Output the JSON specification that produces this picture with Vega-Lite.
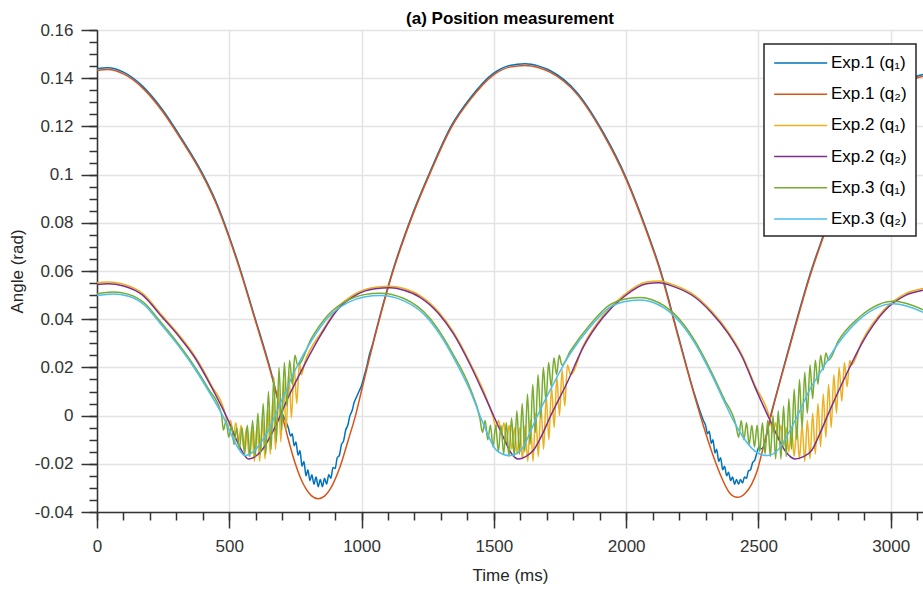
{
"$schema": "https://vega.github.io/schema/vega-lite/v6.json",
"width": 826, "height": 482,
"autosize": {"type": "none"},
"padding": {"left": 97, "top": 30, "right": 0, "bottom": 77},
"background": "white",
"title": {"text": "(a) Position measurement", "fontSize": 17, "fontWeight": "bold", "color": "#000000", "offset": -7, "anchor": "middle", "font": "Liberation Sans"},
"datasets": {
"e1a": [{"t":0,"v":0.1439},{"t":40,"v":0.1443},{"t":100,"v":0.1425},{"t":170,"v":0.1369},{"t":245,"v":0.1273},{"t":320,"v":0.1149},{"t":396,"v":0.1010},{"t":450,"v":0.0887},{"t":496,"v":0.0755},{"t":540,"v":0.0612},{"t":594,"v":0.0417},{"t":654,"v":0.0197},{"t":700,"v":0.0007},{"t":712,"v":-0.002},{"t":723,"v":-0.005},{"t":732,"v":-0.0085},{"t":738,"v":-0.0075},{"t":745,"v":-0.0125},{"t":752,"v":-0.011},{"t":760,"v":-0.0165},{"t":767,"v":-0.0145},{"t":775,"v":-0.021},{"t":782,"v":-0.019},{"t":790,"v":-0.025},{"t":797,"v":-0.0225},{"t":805,"v":-0.027},{"t":812,"v":-0.0245},{"t":820,"v":-0.0285},{"t":828,"v":-0.0255},{"t":836,"v":-0.0295},{"t":844,"v":-0.0265},{"t":852,"v":-0.0295},{"t":860,"v":-0.026},{"t":868,"v":-0.0285},{"t":876,"v":-0.0245},{"t":884,"v":-0.026},{"t":892,"v":-0.0215},{"t":900,"v":-0.022},{"t":908,"v":-0.0175},{"t":916,"v":-0.0165},{"t":924,"v":-0.012},{"t":932,"v":-0.0105},{"t":940,"v":-0.006},{"t":948,"v":-0.004},{"t":956,"v":0.0},{"t":964,"v":0.002},{"t":972,"v":0.0055},{"t":980,"v":0.0075},{"t":990,"v":0.010},{"t":1000,"v":0.0125},{"t":1010,"v":0.0165},{"t":1020,"v":0.0205},{"t":1030,"v":0.0255},{"t":1040,"v":0.029},{"t":1051,"v":0.0337},{"t":1114,"v":0.0588},{"t":1195,"v":0.0844},{"t":1258,"v":0.1010},{"t":1340,"v":0.1204},{"t":1410,"v":0.1317},{"t":1498,"v":0.1420},{"t":1560,"v":0.1453},{"t":1618,"v":0.1460},{"t":1670,"v":0.1450},{"t":1712,"v":0.1432},{"t":1813,"v":0.1342},{"t":1913,"v":0.1176},{"t":2002,"v":0.0982},{"t":2071,"v":0.0789},{"t":2128,"v":0.0609},{"t":2197,"v":0.0332},{"t":2260,"v":0.0083},{"t":2292,"v":-0.002},{"t":2300,"v":-0.004},{"t":2308,"v":-0.0075},{"t":2314,"v":-0.0065},{"t":2322,"v":-0.0115},{"t":2328,"v":-0.010},{"t":2336,"v":-0.0155},{"t":2342,"v":-0.014},{"t":2350,"v":-0.019},{"t":2357,"v":-0.0175},{"t":2365,"v":-0.0225},{"t":2372,"v":-0.021},{"t":2380,"v":-0.025},{"t":2387,"v":-0.0235},{"t":2395,"v":-0.027},{"t":2402,"v":-0.0255},{"t":2410,"v":-0.0285},{"t":2417,"v":-0.0265},{"t":2425,"v":-0.0285},{"t":2432,"v":-0.0265},{"t":2440,"v":-0.028},{"t":2447,"v":-0.0255},{"t":2455,"v":-0.026},{"t":2462,"v":-0.023},{"t":2470,"v":-0.0225},{"t":2478,"v":-0.0195},{"t":2486,"v":-0.0185},{"t":2494,"v":-0.0155},{"t":2502,"v":-0.013},{"t":2512,"v":-0.0138},{"t":2550,"v":0.0017},{"t":2613,"v":0.0272},{"t":2701,"v":0.0607},{"t":2745,"v":0.0747},{"t":2800,"v":0.0917},{"t":2860,"v":0.1072},{"t":2921,"v":0.1207},{"t":2991,"v":0.1322},{"t":3050,"v":0.1382},{"t":3090,"v":0.1405},{"t":3122,"v":0.1415}],
"e1b": [{"t":0,"v":0.1432},{"t":40,"v":0.1436},{"t":100,"v":0.1418},{"t":170,"v":0.1362},{"t":245,"v":0.1266},{"t":320,"v":0.1142},{"t":396,"v":0.1003},{"t":450,"v":0.0880},{"t":496,"v":0.0748},{"t":540,"v":0.0605},{"t":594,"v":0.0410},{"t":654,"v":0.0190},{"t":700,"v":0.0},{"t":720,"v":-0.0086},{"t":748,"v":-0.0195},{"t":770,"v":-0.0261},{"t":790,"v":-0.0304},{"t":810,"v":-0.0332},{"t":836,"v":-0.0345},{"t":860,"v":-0.0334},{"t":880,"v":-0.0307},{"t":920,"v":-0.0208},{"t":950,"v":-0.0100},{"t":977,"v":0.0},{"t":1000,"v":0.0104},{"t":1051,"v":0.0330},{"t":1114,"v":0.0581},{"t":1195,"v":0.0837},{"t":1258,"v":0.1003},{"t":1340,"v":0.1197},{"t":1410,"v":0.1310},{"t":1498,"v":0.1413},{"t":1560,"v":0.1446},{"t":1618,"v":0.1453},{"t":1670,"v":0.1443},{"t":1712,"v":0.1425},{"t":1813,"v":0.1335},{"t":1913,"v":0.1169},{"t":2002,"v":0.0975},{"t":2071,"v":0.0782},{"t":2128,"v":0.0602},{"t":2197,"v":0.0325},{"t":2260,"v":0.0076},{"t":2310,"v":-0.0105},{"t":2340,"v":-0.0200},{"t":2361,"v":-0.0258},{"t":2392,"v":-0.0322},{"t":2421,"v":-0.0339},{"t":2450,"v":-0.0322},{"t":2474,"v":-0.0285},{"t":2495,"v":-0.0230},{"t":2512,"v":-0.0160},{"t":2550,"v":0.0010},{"t":2613,"v":0.0265},{"t":2701,"v":0.0600},{"t":2745,"v":0.0740},{"t":2800,"v":0.0910},{"t":2860,"v":0.1065},{"t":2921,"v":0.1200},{"t":2991,"v":0.1315},{"t":3050,"v":0.1375},{"t":3090,"v":0.1398},{"t":3122,"v":0.1408}],
"e2a": [{"t":0,"v":0.0551},{"t":42,"v":0.0554},{"t":100,"v":0.0545},{"t":170,"v":0.0509},{"t":245,"v":0.0417},{"t":310,"v":0.0335},{"t":370,"v":0.0247},{"t":433,"v":0.0125},{"t":485,"v":0.0005},{"t":495,"v":-0.005},{"t":505,"v":-0.002},{"t":515,"v":-0.008},{"t":525,"v":-0.003},{"t":535,"v":-0.011},{"t":545,"v":-0.004},{"t":555,"v":-0.014},{"t":565,"v":-0.005},{"t":575,"v":-0.017},{"t":585,"v":-0.005},{"t":595,"v":-0.019},{"t":605,"v":-0.004},{"t":615,"v":-0.019},{"t":625,"v":-0.001},{"t":635,"v":-0.018},{"t":645,"v":0.003},{"t":655,"v":-0.016},{"t":665,"v":0.007},{"t":675,"v":-0.014},{"t":685,"v":0.011},{"t":695,"v":-0.011},{"t":705,"v":0.015},{"t":715,"v":-0.006},{"t":725,"v":0.018},{"t":735,"v":-0.001},{"t":745,"v":0.021},{"t":755,"v":0.005},{"t":765,"v":0.022},{"t":772,"v":0.017},{"t":786,"v":0.0222},{"t":849,"v":0.0347},{"t":912,"v":0.0450},{"t":975,"v":0.0505},{"t":1051,"v":0.0533},{"t":1107,"v":0.0537},{"t":1160,"v":0.0527},{"t":1221,"v":0.0498},{"t":1290,"v":0.0432},{"t":1347,"v":0.0347},{"t":1410,"v":0.0219},{"t":1473,"v":0.0070},{"t":1498,"v":-0.001},{"t":1508,"v":-0.005},{"t":1518,"v":-0.002},{"t":1528,"v":-0.008},{"t":1538,"v":-0.003},{"t":1548,"v":-0.011},{"t":1558,"v":-0.004},{"t":1568,"v":-0.014},{"t":1578,"v":-0.005},{"t":1588,"v":-0.016},{"t":1598,"v":-0.005},{"t":1608,"v":-0.018},{"t":1618,"v":-0.004},{"t":1628,"v":-0.019},{"t":1638,"v":-0.002},{"t":1648,"v":-0.019},{"t":1658,"v":0.001},{"t":1668,"v":-0.017},{"t":1678,"v":0.004},{"t":1688,"v":-0.014},{"t":1698,"v":0.008},{"t":1708,"v":-0.010},{"t":1718,"v":0.012},{"t":1728,"v":-0.005},{"t":1738,"v":0.016},{"t":1748,"v":0.000},{"t":1758,"v":0.019},{"t":1768,"v":0.004},{"t":1778,"v":0.021},{"t":1790,"v":0.017},{"t":1838,"v":0.0291},{"t":1913,"v":0.0415},{"t":1989,"v":0.0498},{"t":2077,"v":0.0554},{"t":2125,"v":0.0558},{"t":2180,"v":0.0542},{"t":2260,"v":0.0498},{"t":2320,"v":0.0437},{"t":2386,"v":0.0347},{"t":2440,"v":0.0247},{"t":2487,"v":0.0125},{"t":2545,"v":-0.002},{"t":2555,"v":-0.007},{"t":2565,"v":-0.003},{"t":2575,"v":-0.010},{"t":2585,"v":-0.004},{"t":2595,"v":-0.013},{"t":2605,"v":-0.005},{"t":2615,"v":-0.015},{"t":2625,"v":-0.005},{"t":2635,"v":-0.017},{"t":2645,"v":-0.005},{"t":2655,"v":-0.018},{"t":2665,"v":-0.004},{"t":2675,"v":-0.019},{"t":2685,"v":-0.002},{"t":2695,"v":-0.018},{"t":2705,"v":0.001},{"t":2715,"v":-0.016},{"t":2725,"v":0.005},{"t":2735,"v":-0.013},{"t":2745,"v":0.009},{"t":2755,"v":-0.009},{"t":2765,"v":0.013},{"t":2775,"v":-0.005},{"t":2785,"v":0.017},{"t":2795,"v":0.001},{"t":2805,"v":0.020},{"t":2815,"v":0.006},{"t":2825,"v":0.022},{"t":2835,"v":0.012},{"t":2845,"v":0.023},{"t":2852,"v":0.021},{"t":2890,"v":0.0305},{"t":2978,"v":0.0443},{"t":3054,"v":0.0505},{"t":3122,"v":0.0527}],
"e2b": [{"t":0,"v":0.0544},{"t":42,"v":0.0547},{"t":100,"v":0.0538},{"t":170,"v":0.0502},{"t":245,"v":0.0410},{"t":310,"v":0.0328},{"t":370,"v":0.0240},{"t":433,"v":0.0118},{"t":496,"v":-0.0020},{"t":534,"v":-0.0117},{"t":552,"v":-0.0155},{"t":572,"v":-0.0180},{"t":595,"v":-0.0172},{"t":622,"v":-0.0145},{"t":673,"v":-0.0048},{"t":723,"v":0.0076},{"t":786,"v":0.0215},{"t":849,"v":0.0340},{"t":912,"v":0.0443},{"t":975,"v":0.0498},{"t":1051,"v":0.0526},{"t":1107,"v":0.0530},{"t":1160,"v":0.0520},{"t":1221,"v":0.0491},{"t":1290,"v":0.0425},{"t":1347,"v":0.0340},{"t":1410,"v":0.0212},{"t":1473,"v":0.0063},{"t":1536,"v":-0.0090},{"t":1565,"v":-0.0155},{"t":1592,"v":-0.0180},{"t":1620,"v":-0.0170},{"t":1649,"v":-0.0145},{"t":1680,"v":-0.0085},{"t":1712,"v":-0.0007},{"t":1775,"v":0.0132},{"t":1838,"v":0.0284},{"t":1913,"v":0.0408},{"t":1989,"v":0.0491},{"t":2077,"v":0.0547},{"t":2125,"v":0.0551},{"t":2180,"v":0.0535},{"t":2260,"v":0.0491},{"t":2320,"v":0.0430},{"t":2386,"v":0.0340},{"t":2440,"v":0.0240},{"t":2487,"v":0.0118},{"t":2550,"v":-0.0034},{"t":2600,"v":-0.0145},{"t":2638,"v":-0.0180},{"t":2670,"v":-0.0170},{"t":2701,"v":-0.0145},{"t":2730,"v":-0.0080},{"t":2764,"v":0.0007},{"t":2827,"v":0.0159},{"t":2890,"v":0.0298},{"t":2978,"v":0.0436},{"t":3054,"v":0.0498},{"t":3122,"v":0.0520}],
"e3a": [{"t":0,"v":0.0506},{"t":60,"v":0.0513},{"t":120,"v":0.0503},{"t":180,"v":0.0466},{"t":232,"v":0.0400},{"t":297,"v":0.0313},{"t":357,"v":0.0223},{"t":420,"v":0.0113},{"t":470,"v":0.0008},{"t":478,"v":-0.006},{"t":488,"v":-0.002},{"t":498,"v":-0.009},{"t":508,"v":-0.004},{"t":518,"v":-0.012},{"t":528,"v":-0.005},{"t":538,"v":-0.014},{"t":548,"v":-0.005},{"t":558,"v":-0.016},{"t":568,"v":-0.004},{"t":578,"v":-0.017},{"t":588,"v":-0.002},{"t":598,"v":-0.017},{"t":608,"v":0.001},{"t":618,"v":-0.016},{"t":628,"v":0.005},{"t":638,"v":-0.016},{"t":648,"v":0.010},{"t":658,"v":-0.014},{"t":668,"v":0.016},{"t":678,"v":-0.011},{"t":688,"v":0.020},{"t":698,"v":-0.006},{"t":708,"v":0.022},{"t":718,"v":0.004},{"t":728,"v":0.023},{"t":738,"v":0.013},{"t":748,"v":0.025},{"t":758,"v":0.021},{"t":811,"v":0.0321},{"t":874,"v":0.0418},{"t":950,"v":0.0480},{"t":1010,"v":0.0502},{"t":1070,"v":0.0508},{"t":1158,"v":0.0487},{"t":1258,"v":0.0404},{"t":1300,"v":0.0340},{"t":1347,"v":0.0252},{"t":1410,"v":0.0114},{"t":1447,"v":-0.001},{"t":1457,"v":-0.007},{"t":1467,"v":-0.002},{"t":1477,"v":-0.010},{"t":1487,"v":-0.004},{"t":1497,"v":-0.013},{"t":1507,"v":-0.004},{"t":1517,"v":-0.015},{"t":1527,"v":-0.004},{"t":1537,"v":-0.016},{"t":1547,"v":-0.003},{"t":1557,"v":-0.017},{"t":1567,"v":-0.001},{"t":1577,"v":-0.017},{"t":1587,"v":0.002},{"t":1597,"v":-0.016},{"t":1607,"v":0.005},{"t":1617,"v":-0.015},{"t":1627,"v":0.009},{"t":1637,"v":-0.012},{"t":1647,"v":0.013},{"t":1657,"v":-0.007},{"t":1667,"v":0.017},{"t":1677,"v":-0.001},{"t":1687,"v":0.020},{"t":1697,"v":0.006},{"t":1707,"v":0.022},{"t":1717,"v":0.012},{"t":1727,"v":0.024},{"t":1737,"v":0.017},{"t":1747,"v":0.025},{"t":1757,"v":0.021},{"t":1788,"v":0.0266},{"t":1863,"v":0.0377},{"t":1939,"v":0.0460},{"t":2014,"v":0.0487},{"t":2052,"v":0.0490},{"t":2100,"v":0.0480},{"t":2184,"v":0.0420},{"t":2260,"v":0.0310},{"t":2323,"v":0.0180},{"t":2370,"v":0.0070},{"t":2415,"v":-0.004},{"t":2425,"v":-0.009},{"t":2435,"v":-0.002},{"t":2445,"v":-0.010},{"t":2455,"v":-0.003},{"t":2465,"v":-0.012},{"t":2475,"v":-0.004},{"t":2485,"v":-0.013},{"t":2495,"v":-0.004},{"t":2505,"v":-0.015},{"t":2515,"v":-0.003},{"t":2525,"v":-0.016},{"t":2535,"v":-0.002},{"t":2545,"v":-0.017},{"t":2555,"v":0.000},{"t":2565,"v":-0.018},{"t":2575,"v":0.002},{"t":2585,"v":-0.018},{"t":2595,"v":0.004},{"t":2605,"v":-0.017},{"t":2615,"v":0.007},{"t":2625,"v":-0.014},{"t":2635,"v":0.011},{"t":2645,"v":-0.010},{"t":2655,"v":0.015},{"t":2665,"v":-0.005},{"t":2675,"v":0.018},{"t":2685,"v":0.001},{"t":2695,"v":0.021},{"t":2705,"v":0.007},{"t":2715,"v":0.023},{"t":2725,"v":0.013},{"t":2735,"v":0.025},{"t":2745,"v":0.019},{"t":2755,"v":0.026},{"t":2765,"v":0.023},{"t":2802,"v":0.0310},{"t":2877,"v":0.0404},{"t":2953,"v":0.0460},{"t":3010,"v":0.0474},{"t":3060,"v":0.0465},{"t":3122,"v":0.0439}],
"e3b": [{"t":0,"v":0.0498},{"t":60,"v":0.0505},{"t":120,"v":0.0495},{"t":180,"v":0.0458},{"t":232,"v":0.0392},{"t":297,"v":0.0305},{"t":357,"v":0.0215},{"t":420,"v":0.0105},{"t":475,"v":0.0000},{"t":521,"v":-0.0110},{"t":540,"v":-0.0145},{"t":559,"v":-0.0166},{"t":580,"v":-0.0158},{"t":600,"v":-0.0140},{"t":647,"v":-0.0062},{"t":698,"v":0.0063},{"t":748,"v":0.0187},{"t":811,"v":0.0311},{"t":874,"v":0.0408},{"t":950,"v":0.0470},{"t":1010,"v":0.0492},{"t":1070,"v":0.0498},{"t":1158,"v":0.0477},{"t":1258,"v":0.0394},{"t":1300,"v":0.0330},{"t":1347,"v":0.0242},{"t":1410,"v":0.0104},{"t":1460,"v":-0.0034},{"t":1511,"v":-0.0145},{"t":1561,"v":-0.0166},{"t":1590,"v":-0.0155},{"t":1611,"v":-0.0131},{"t":1636,"v":-0.0072},{"t":1662,"v":-0.0007},{"t":1725,"v":0.0132},{"t":1788,"v":0.0256},{"t":1863,"v":0.0367},{"t":1939,"v":0.0450},{"t":2014,"v":0.0477},{"t":2052,"v":0.0480},{"t":2100,"v":0.0470},{"t":2184,"v":0.0410},{"t":2260,"v":0.0300},{"t":2323,"v":0.0170},{"t":2370,"v":0.0060},{"t":2410,"v":-0.0030},{"t":2449,"v":-0.0100},{"t":2490,"v":-0.0150},{"t":2535,"v":-0.0166},{"t":2580,"v":-0.0135},{"t":2620,"v":-0.0060},{"t":2650,"v":0.0005},{"t":2700,"v":0.0120},{"t":2726,"v":0.0165},{"t":2802,"v":0.0300},{"t":2877,"v":0.0394},{"t":2953,"v":0.0450},{"t":3010,"v":0.0464},{"t":3060,"v":0.0455},{"t":3122,"v":0.0429}]
},
"layer": [
 {"layer": [
  {"data": {"name": "e1a"}, "mark": {"type": "line", "strokeWidth": 1.5, "clip": true, "interpolate": "monotone"},
   "encoding": {
    "x": {"field": "t", "type": "quantitative", "scale": {"domain": [0, 3122], "nice": false, "zero": false},
      "axis": {"orient": "bottom", "values": [0,500,1000,1500,2000,2500,3000], "format": "d", "title": "Time (ms)", "grid": true, "tickSize": 16, "labelPadding": 10, "titlePadding": 13, "labelFlush": false, "labelOverlap": false}},
    "y": {"field": "v", "type": "quantitative", "scale": {"domain": [-0.04, 0.16], "nice": false, "zero": false},
      "axis": {"orient": "left", "values": [-0.04,-0.02,0,0.02,0.04,0.06,0.08,0.1,0.12,0.14,0.16], "labelExpr": "toString(datum.value)", "title": "Angle (rad)", "grid": true, "tickSize": 16, "labelPadding": 8, "titlePadding": 8, "labelFlush": false, "labelOverlap": false}},
    "color": {"datum": "Exp.1 (q₁)", "type": "nominal",
      "scale": {"domain": ["Exp.1 (q₁)","Exp.1 (q₂)","Exp.2 (q₁)","Exp.2 (q₂)","Exp.3 (q₁)","Exp.3 (q₂)"], "range": ["#0072BD","#D95319","#EDB120","#7E2F8E","#77AC30","#4DBEEE"]},
      "legend": {"title": null, "orient": "none", "legendX": 667, "legendY": 14, "symbolType": "M-1,0H5", "symbolSize": 312, "symbolStrokeWidth": 1.5, "labelOffset": 38, "rowPadding": 13.2, "padding": 9, "labelFontSize": 17, "labelColor": "#000000", "labelFont": "Liberation Sans", "strokeColor": "#262626", "fillColor": "#ffffff"}}
   }},
  {"data": {"name": "e1b"}, "mark": {"type": "line", "strokeWidth": 1.5, "clip": true, "interpolate": "monotone"},
   "encoding": {"x": {"field": "t", "type": "quantitative", "scale": {"domain": [0, 3122], "nice": false, "zero": false}}, "y": {"field": "v", "type": "quantitative", "scale": {"domain": [-0.04, 0.16], "nice": false, "zero": false}}, "color": {"datum": "Exp.1 (q₂)", "type": "nominal"}}},
  {"data": {"name": "e2a"}, "mark": {"type": "line", "strokeWidth": 1.5, "clip": true, "interpolate": "monotone"},
   "encoding": {"x": {"field": "t", "type": "quantitative", "scale": {"domain": [0, 3122], "nice": false, "zero": false}}, "y": {"field": "v", "type": "quantitative", "scale": {"domain": [-0.04, 0.16], "nice": false, "zero": false}}, "color": {"datum": "Exp.2 (q₁)", "type": "nominal"}}},
  {"data": {"name": "e2b"}, "mark": {"type": "line", "strokeWidth": 1.5, "clip": true, "interpolate": "monotone"},
   "encoding": {"x": {"field": "t", "type": "quantitative", "scale": {"domain": [0, 3122], "nice": false, "zero": false}}, "y": {"field": "v", "type": "quantitative", "scale": {"domain": [-0.04, 0.16], "nice": false, "zero": false}}, "color": {"datum": "Exp.2 (q₂)", "type": "nominal"}}},
  {"data": {"name": "e3a"}, "mark": {"type": "line", "strokeWidth": 1.5, "clip": true, "interpolate": "monotone"},
   "encoding": {"x": {"field": "t", "type": "quantitative", "scale": {"domain": [0, 3122], "nice": false, "zero": false}}, "y": {"field": "v", "type": "quantitative", "scale": {"domain": [-0.04, 0.16], "nice": false, "zero": false}}, "color": {"datum": "Exp.3 (q₁)", "type": "nominal"}}},
  {"data": {"name": "e3b"}, "mark": {"type": "line", "strokeWidth": 1.5, "clip": true, "interpolate": "monotone"},
   "encoding": {"x": {"field": "t", "type": "quantitative", "scale": {"domain": [0, 3122], "nice": false, "zero": false}}, "y": {"field": "v", "type": "quantitative", "scale": {"domain": [-0.04, 0.16], "nice": false, "zero": false}}, "color": {"datum": "Exp.3 (q₂)", "type": "nominal"}}}
 ]},
 {"data": {"name": "e1b"}, "mark": {"type": "point", "opacity": 0, "size": 1},
  "encoding": {
   "x": {"field": "t", "type": "quantitative", "scale": {"domain": [0, 3122], "nice": false, "zero": false},
     "axis": {"orient": "bottom", "values": [0,100,200,300,400,500,600,700,800,900,1000,1100,1200,1300,1400,1500,1600,1700,1800,1900,2000,2100,2200,2300,2400,2500,2600,2700,2800,2900,3000,3100], "labels": false, "grid": false, "domain": false, "tickSize": 8, "title": null}},
   "y": {"field": "v", "type": "quantitative", "scale": {"domain": [-0.04, 0.16], "nice": false, "zero": false},
     "axis": {"orient": "left", "values": [-0.04,-0.035,-0.03,-0.025,-0.02,-0.015,-0.01,-0.005,0,0.005,0.01,0.015,0.02,0.025,0.03,0.035,0.04,0.045,0.05,0.055,0.06,0.065,0.07,0.075,0.08,0.085,0.09,0.095,0.1,0.105,0.11,0.115,0.12,0.125,0.13,0.135,0.14,0.145,0.15,0.155,0.16], "labels": false, "grid": false, "domain": false, "tickSize": 8, "title": null}}
  }}
],
"resolve": {"axis": {"x": "independent", "y": "independent"}},
"config": {
 "font": "Liberation Sans",
 "view": {"stroke": null},
 "axis": {"labelFont": "Liberation Sans", "labelFontSize": 17, "labelColor": "#333333", "titleFont": "Liberation Sans", "titleFontSize": 17, "titleFontWeight": "normal", "titleColor": "#262626", "domainColor": "#333333", "domainWidth": 1.5, "tickColor": "#333333", "tickWidth": 1.5, "gridColor": "#e3e3e3", "gridWidth": 1.5},
 "legend": {"strokeWidth": 1.5}
}
}
